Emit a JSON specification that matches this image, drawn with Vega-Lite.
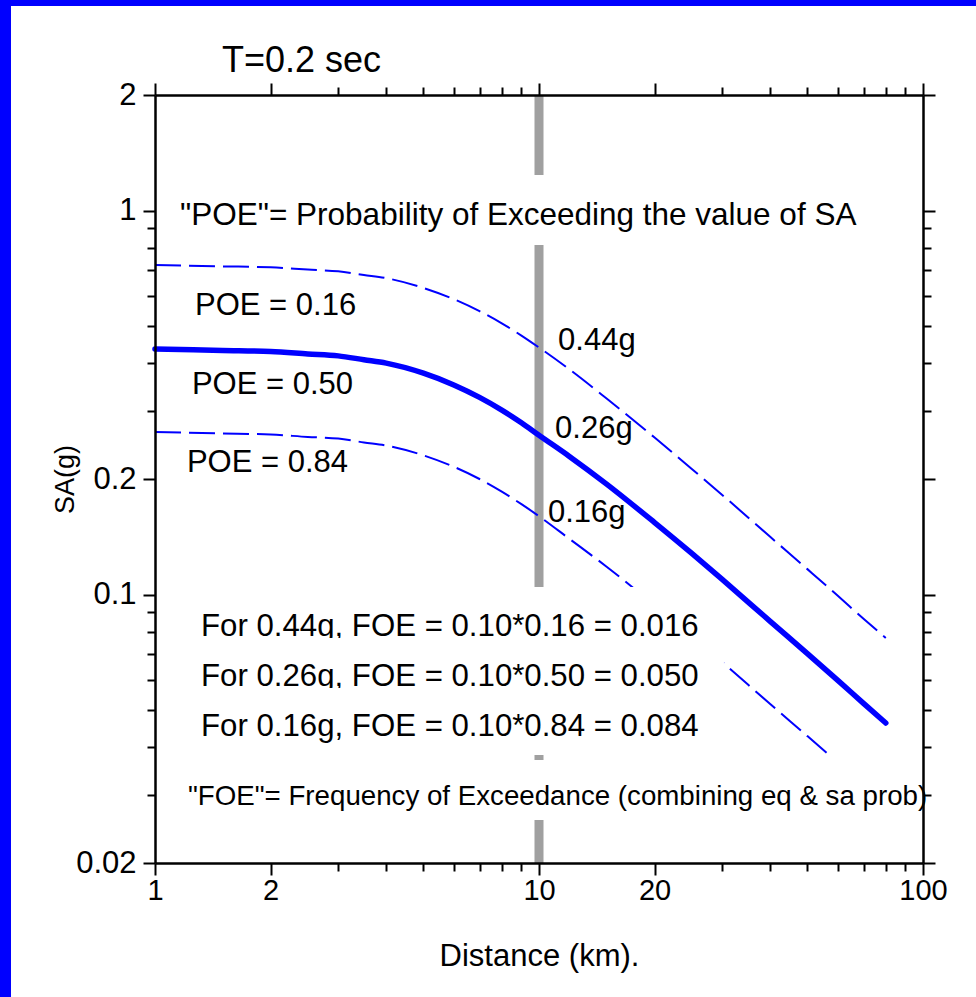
{
  "$schema": "https://vega.github.io/schema/vega-lite/v6.json",
  "width": 965,
  "height": 991,
  "autosize": {"type": "none"},
  "padding": {"left": 11, "top": 6, "right": 0, "bottom": 0},
  "background": "#0000ff",
  "config": {
    "view": {"fill": "#ffffff", "stroke": null},
    "font": "Liberation Sans",
    "axis": {
      "domainColor": "#000000",
      "domainWidth": 2.5,
      "tickColor": "#000000",
      "tickWidth": 2,
      "labelColor": "#000000",
      "labelFont": "Liberation Sans",
      "labelFontSize": 29,
      "titleFont": "Liberation Sans",
      "titleColor": "#000000",
      "titleFontWeight": "normal",
      "grid": false,
      "labelOverlap": false,
      "labelFlush": false,
      "labelBound": false
    }
  },
  "title": {
    "text": "T=0.2 sec",
    "orient": "top",
    "anchor": "start",
    "frame": "group",
    "font": "Liberation Sans",
    "fontSize": 36,
    "fontWeight": "normal",
    "color": "#000000",
    "baseline": "alphabetic",
    "dx": 211,
    "offset": -102
  },
  "encoding": {
    "x": {"field": "d", "type": "quantitative", "scale": {"type": "log", "domain": [1, 100], "range": [144, 912], "nice": false}, "axis": null},
    "y": {"field": "sa", "type": "quantitative", "scale": {"type": "log", "domain": [0.02, 2], "range": [857, 89], "nice": false}, "axis": null}
  },
  "layer": [
    {
      "description": "Vertical marker at 10 km, carries the bottom and left axes",
      "data": {"values": [{"d": 10, "sa": 0.02, "sa2": 2}]},
      "mark": {"type": "rule", "color": "#a0a0a0", "strokeWidth": 9, "strokeCap": "butt"},
      "encoding": {
        "x": {
          "field": "d", "type": "quantitative",
          "scale": {"type": "log", "domain": [1, 100], "range": [144, 912], "nice": false},
          "axis": {
            "orient": "bottom",
            "offset": -134,
            "zindex": 1,
            "values": [1, 2, 3, 4, 5, 6, 7, 8, 9, 10, 20, 30, 40, 50, 60, 70, 80, 90, 100],
            "labelExpr": "indexof([1, 2, 10, 20, 100], datum.value) >= 0 ? datum.value + '' : ''",
            "tickSize": {"condition": {"test": "indexof([1, 2, 10, 20, 100], datum.value) >= 0", "value": 12}, "value": 8},
            "labelPadding": 1,
            "labelFontSize": 29,
            "title": "Distance (km).",
            "titleFontSize": 31,
            "titlePadding": 36
          }
        },
        "y": {
          "field": "sa", "type": "quantitative",
          "scale": {"type": "log", "domain": [0.02, 2], "range": [857, 89], "nice": false},
          "axis": {
            "orient": "left",
            "offset": -144,
            "zindex": 1,
            "values": [0.02, 0.03, 0.04, 0.05, 0.06, 0.07, 0.08, 0.09, 0.1, 0.2, 0.3, 0.4, 0.5, 0.6, 0.7, 0.8, 0.9, 1, 2],
            "labelExpr": "indexof([0.02, 0.1, 0.2, 1, 2], datum.value) >= 0 ? datum.value + '' : ''",
            "tickSize": {"condition": {"test": "indexof([0.02, 0.1, 0.2, 1, 2], datum.value) >= 0", "value": 12}, "value": 8},
            "labelPadding": 7,
            "labelFontSize": 31,
            "title": "SA(g)",
            "titleFontSize": 27,
            "titlePadding": -4
          }
        },
        "y2": {"field": "sa2"}
      }
    },
    {
      "description": "POE = 0.16 and POE = 0.84 curves",
      "data": {"values": [
        {"poe": "0.16", "d": 1, "sa": 0.722}, {"poe": "0.16", "d": 1.5, "sa": 0.7157}, {"poe": "0.16", "d": 2, "sa": 0.7118},
        {"poe": "0.16", "d": 2.5, "sa": 0.702}, {"poe": "0.16", "d": 3, "sa": 0.6947}, {"poe": "0.16", "d": 3.5, "sa": 0.6796},
        {"poe": "0.16", "d": 4, "sa": 0.6668}, {"poe": "0.16", "d": 5, "sa": 0.629}, {"poe": "0.16", "d": 6, "sa": 0.5879},
        {"poe": "0.16", "d": 7, "sa": 0.5472}, {"poe": "0.16", "d": 8, "sa": 0.5086}, {"poe": "0.16", "d": 9, "sa": 0.4727},
        {"poe": "0.16", "d": 10, "sa": 0.44}, {"poe": "0.16", "d": 12, "sa": 0.3859}, {"poe": "0.16", "d": 15, "sa": 0.324},
        {"poe": "0.16", "d": 20, "sa": 0.2564}, {"poe": "0.16", "d": 25, "sa": 0.2125}, {"poe": "0.16", "d": 30, "sa": 0.1818},
        {"poe": "0.16", "d": 40, "sa": 0.1414}, {"poe": "0.16", "d": 50, "sa": 0.1165}, {"poe": "0.16", "d": 60, "sa": 0.0993},
        {"poe": "0.16", "d": 70, "sa": 0.0865}, {"poe": "0.16", "d": 80, "sa": 0.0771},
        {"poe": "0.84", "d": 1, "sa": 0.265}, {"poe": "0.84", "d": 1.5, "sa": 0.2628}, {"poe": "0.84", "d": 2, "sa": 0.2612},
        {"poe": "0.84", "d": 2.5, "sa": 0.2574}, {"poe": "0.84", "d": 3, "sa": 0.2549}, {"poe": "0.84", "d": 3.5, "sa": 0.249},
        {"poe": "0.84", "d": 4, "sa": 0.2444}, {"poe": "0.84", "d": 5, "sa": 0.2305}, {"poe": "0.84", "d": 6, "sa": 0.2152},
        {"poe": "0.84", "d": 7, "sa": 0.2}, {"poe": "0.84", "d": 8, "sa": 0.1854}, {"poe": "0.84", "d": 9, "sa": 0.172},
        {"poe": "0.84", "d": 10, "sa": 0.16}, {"poe": "0.84", "d": 12, "sa": 0.1397}, {"poe": "0.84", "d": 15, "sa": 0.1182},
        {"poe": "0.84", "d": 20, "sa": 0.0938}, {"poe": "0.84", "d": 25, "sa": 0.078}, {"poe": "0.84", "d": 30, "sa": 0.0667},
        {"poe": "0.84", "d": 40, "sa": 0.0519}, {"poe": "0.84", "d": 50, "sa": 0.0428}, {"poe": "0.84", "d": 57, "sa": 0.0382}
      ]},
      "mark": {"type": "line", "color": "#0000ff", "strokeWidth": 2, "strokeDash": [26, 8], "interpolate": "monotone"},
      "encoding": {"detail": {"field": "poe"}}
    },
    {
      "description": "Median curve (POE = 0.50), carries the top and right axes",
      "data": {"values": [
        {"d": 1, "sa": 0.436}, {"d": 1.5, "sa": 0.4322}, {"d": 2, "sa": 0.4296}, {"d": 2.5, "sa": 0.4234},
        {"d": 3, "sa": 0.4185}, {"d": 3.5, "sa": 0.4089}, {"d": 4, "sa": 0.4007}, {"d": 5, "sa": 0.3773},
        {"d": 6, "sa": 0.3516}, {"d": 7, "sa": 0.3263}, {"d": 8, "sa": 0.3024}, {"d": 9, "sa": 0.2802},
        {"d": 10, "sa": 0.26}, {"d": 12, "sa": 0.229}, {"d": 15, "sa": 0.194}, {"d": 20, "sa": 0.154},
        {"d": 25, "sa": 0.128}, {"d": 30, "sa": 0.1095}, {"d": 40, "sa": 0.0852}, {"d": 50, "sa": 0.0702},
        {"d": 60, "sa": 0.0598}, {"d": 70, "sa": 0.0521}, {"d": 80, "sa": 0.0463}
      ]},
      "mark": {"type": "line", "color": "#0000ff", "strokeWidth": 5.5, "strokeCap": "round", "interpolate": "monotone"},
      "encoding": {
        "x": {
          "field": "d", "type": "quantitative",
          "scale": {"type": "log", "domain": [1, 100], "range": [144, 912], "nice": false},
          "axis": {
            "orient": "top",
            "offset": -89,
            "zindex": 1,
            "values": [1, 2, 3, 4, 5, 6, 7, 8, 9, 10, 20, 30, 40, 50, 60, 70, 80, 90, 100],
            "labels": false,
            "tickSize": {"condition": {"test": "indexof([1, 2, 10, 20, 100], datum.value) >= 0", "value": 12}, "value": 8},
            "title": null
          }
        },
        "y": {
          "field": "sa", "type": "quantitative",
          "scale": {"type": "log", "domain": [0.02, 2], "range": [857, 89], "nice": false},
          "axis": {
            "orient": "right",
            "offset": -53,
            "zindex": 1,
            "values": [0.02, 0.03, 0.04, 0.05, 0.06, 0.07, 0.08, 0.09, 0.1, 0.2, 0.3, 0.4, 0.5, 0.6, 0.7, 0.8, 0.9, 1, 2],
            "labels": false,
            "tickSize": {"condition": {"test": "indexof([0.02, 0.1, 0.2, 1, 2], datum.value) >= 0", "value": 12}, "value": 8},
            "title": null
          }
        }
      }
    },
    {
      "data": {"values": [{"d": 1.094, "d2": 71.0, "sa": 1.2381, "sa2": 0.8136}]},
      "mark": {"type": "rect", "fill": "#ffffff"},
      "encoding": {"x2": {"field": "d2"}, "y2": {"field": "sa2"}}
    },
    {
      "data": {"values": [{"d": 1.162, "sa": 0.9681, "label": "\"POE\"= Probability of Exceeding the value of SA"}]},
      "mark": {"type": "text", "align": "left", "baseline": "middle", "font": "Liberation Sans", "fontSize": 31.5, "color": "#000000"},
      "encoding": {"text": {"field": "label"}}
    },
    {
      "description": "Curve names",
      "data": {"values": [
        {"d": 1.271, "sa": 0.5645, "label": "POE = 0.16"},
        {"d": 1.248, "sa": 0.3514, "label": "POE = 0.50"},
        {"d": 1.211, "sa": 0.2202, "label": "POE = 0.84"}
      ]},
      "mark": {"type": "text", "align": "left", "baseline": "middle", "font": "Liberation Sans", "fontSize": 31, "color": "#000000"},
      "encoding": {"text": {"field": "label"}}
    },
    {
      "description": "Values read at 10 km",
      "data": {"values": [
        {"d": 11.21, "sa": 0.4574, "label": "0.44g"},
        {"d": 11.01, "sa": 0.27, "label": "0.26g"},
        {"d": 10.55, "sa": 0.1632, "label": "0.16g"}
      ]},
      "mark": {"type": "text", "align": "left", "baseline": "middle", "font": "Liberation Sans", "fontSize": 31, "color": "#000000"},
      "encoding": {"text": {"field": "label"}}
    },
    {
      "data": {"values": [{"d": 1.148, "d2": 30.32, "sa": 0.1047, "sa2": 0.0688}]},
      "mark": {"type": "rect", "fill": "#ffffff"},
      "encoding": {"x2": {"field": "d2"}, "y2": {"field": "sa2"}}
    },
    {
      "data": {"values": [{"d": 1.318, "sa": 0.0823, "label": "For 0.44g, FOE = 0.10*0.16 = 0.016"}]},
      "mark": {"type": "text", "align": "left", "baseline": "middle", "font": "Liberation Sans", "fontSize": 31.2, "color": "#000000"},
      "encoding": {"text": {"field": "label"}}
    },
    {
      "data": {"values": [{"d": 1.148, "d2": 30.32, "sa": 0.0771, "sa2": 0.0507}]},
      "mark": {"type": "rect", "fill": "#ffffff"},
      "encoding": {"x2": {"field": "d2"}, "y2": {"field": "sa2"}}
    },
    {
      "data": {"values": [{"d": 1.318, "sa": 0.061, "label": "For 0.26g, FOE = 0.10*0.50 = 0.050"}]},
      "mark": {"type": "text", "align": "left", "baseline": "middle", "font": "Liberation Sans", "fontSize": 31.2, "color": "#000000"},
      "encoding": {"text": {"field": "label"}}
    },
    {
      "data": {"values": [{"d": 1.148, "d2": 30.32, "sa": 0.0571, "sa2": 0.0382}]},
      "mark": {"type": "rect", "fill": "#ffffff"},
      "encoding": {"x2": {"field": "d2"}, "y2": {"field": "sa2"}}
    },
    {
      "data": {"values": [{"d": 1.318, "sa": 0.0452, "label": "For 0.16g, FOE = 0.10*0.84 = 0.084"}]},
      "mark": {"type": "text", "align": "left", "baseline": "middle", "font": "Liberation Sans", "fontSize": 31.2, "color": "#000000"},
      "encoding": {"text": {"field": "label"}}
    },
    {
      "data": {"values": [{"d": 1.148, "d2": 104.3, "sa": 0.0371, "sa2": 0.0259}]},
      "mark": {"type": "rect", "fill": "#ffffff"},
      "encoding": {"x2": {"field": "d2"}, "y2": {"field": "sa2"}}
    },
    {
      "data": {"values": [{"d": 1.219, "sa": 0.0297, "label": "\"FOE\"= Frequency of Exceedance (combining eq & sa prob)"}]},
      "mark": {"type": "text", "align": "left", "baseline": "middle", "font": "Liberation Sans", "fontSize": 27.7, "color": "#000000"},
      "encoding": {"text": {"field": "label"}}
    }
  ],
  "resolve": {"axis": {"x": "independent", "y": "independent"}}
}
